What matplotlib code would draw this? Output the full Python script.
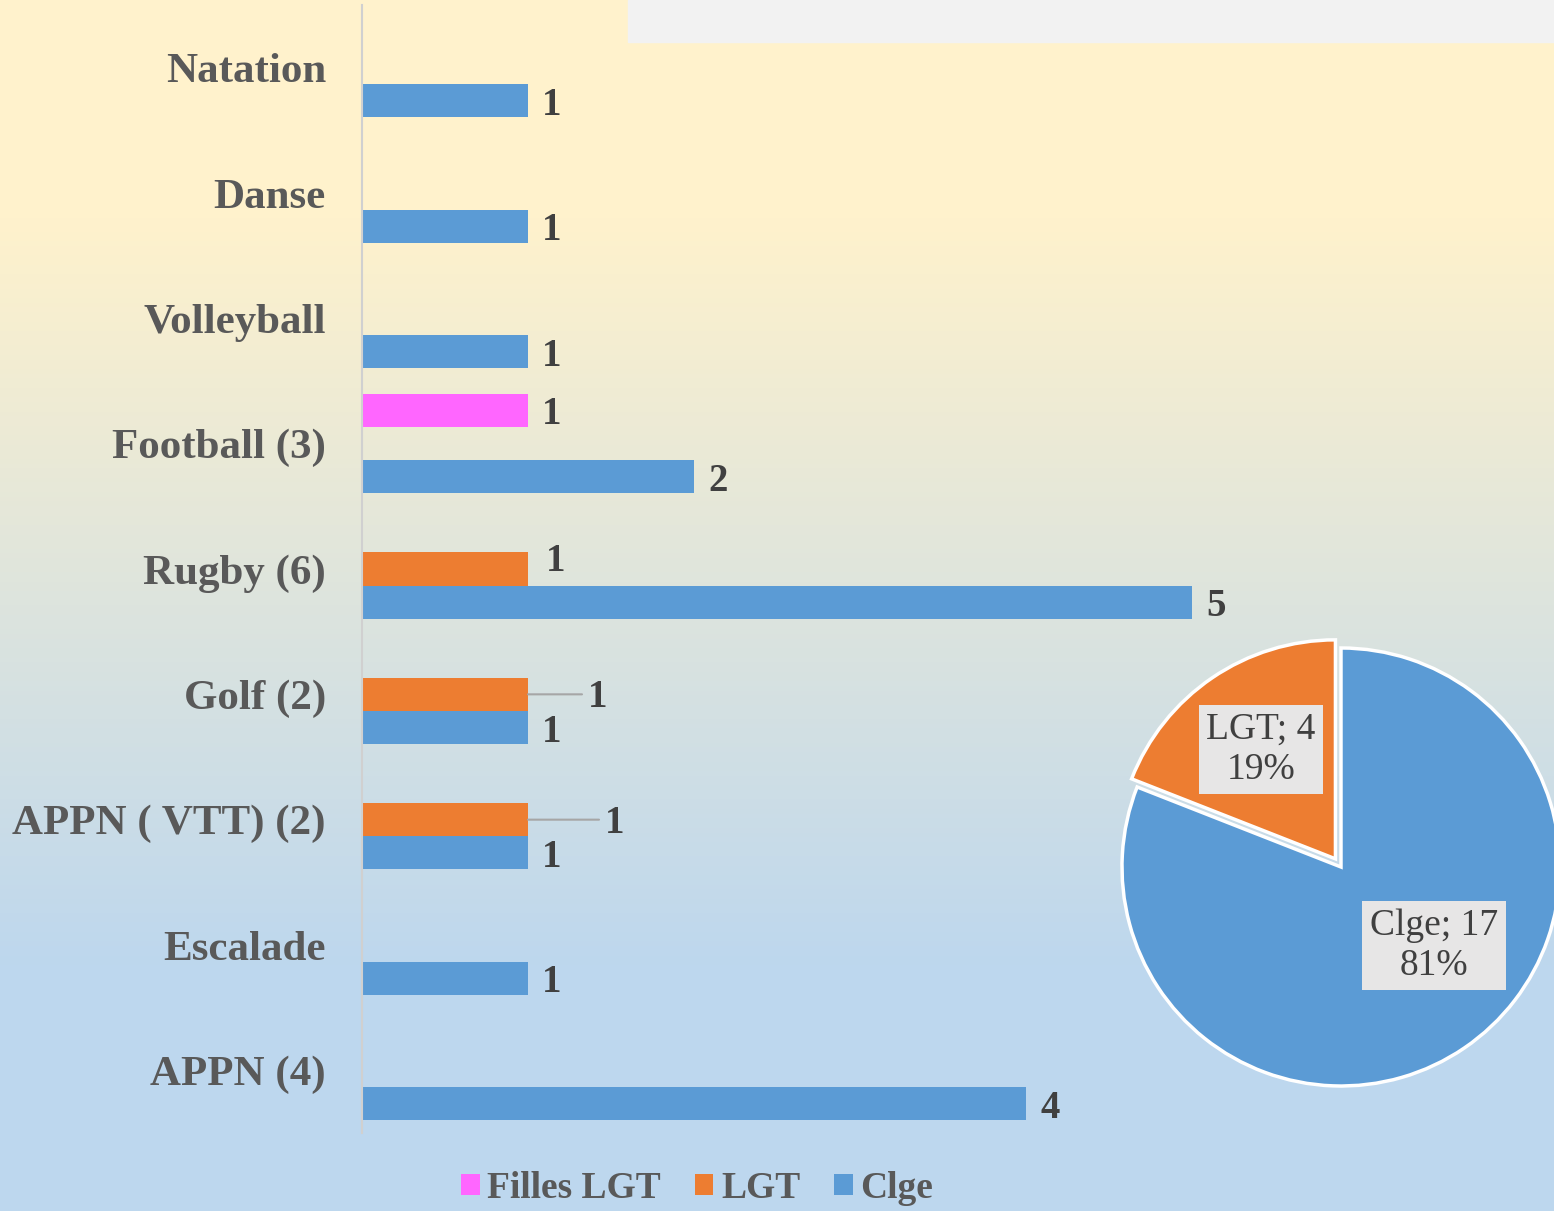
#plot.py
#sports par niveau : barres horizontales + camembert
import matplotlib.pyplot as plt
import numpy as np
from matplotlib.patches import Rectangle

#données
categories = ["Natation", "Danse", "Volleyball", "Football (3)", "Rugby (6)",
              "Golf (2)", "APPN ( VTT) (2)", "Escalade", "APPN (4)"]
filles_lgt = [0, 0, 0, 1, 0, 0, 0, 0, 0]
lgt = [0, 0, 0, 0, 1, 1, 1, 0, 0]
clge = [1, 1, 1, 2, 5, 1, 1, 1, 4]

pie_labels = ["Clge", "LGT"]
pie_values = [17, 4]

#couleurs
c_filles = "#ff66ff"
c_lgt = "#ed7d31"
c_clge = "#5b9bd5"
txt_dark = "#404040"
txt_gray = "#595959"
serif = "Liberation Serif"

W, H = 1554, 1211
fig = plt.figure(figsize=(W / 100, H / 100), dpi=100)

#fond en dégradé jaune -> bleu
bg = fig.add_axes([0, 0, 1, 1], zorder=-2)
pos = np.linspace(0, 1, 256)
top = np.array([255, 242, 204]) / 255
bot = np.array([189, 215, 238]) / 255
t = np.clip((pos - 0.18) / (0.62), 0, 1)
grad = top[None, :] * (1 - t[:, None]) + bot[None, :] * t[:, None]
bg.imshow(grad[:, None, :], aspect="auto", extent=[0, 1, 0, 1])
bg.set_axis_off()
fig.patches.append(Rectangle((628 / W, 1 - 42 / H), 1 - 628 / W, 42 / H,
                             transform=fig.transFigure, color="#f2f2f2", zorder=-1))

#barres
ax = fig.add_axes([362 / W, 1 - 1133 / H, 7 * 166 / W, (1133 - 5) / H])
ax.patch.set_alpha(0)
y = np.arange(len(categories))
h = 0.265
series = [(filles_lgt, -h, c_filles, "Filles LGT"),
          (lgt, 0, c_lgt, "LGT"),
          (clge, h, c_clge, "Clge")]
handles = []
for vals, off, col, lab in series:
    b = ax.barh(y + off, vals, height=h, color=col, linewidth=0, label=lab)
    handles.append(b)

#étiquettes de données
moved = {(1, 5): (70, 0), (1, 6): (87, 0), (1, 4): (28, -11)}  # (serie, cat) -> decalage px
for si, (vals, off, col, lab) in enumerate(series):
    for i, v in enumerate(vals):
        if v == 0:
            continue
        dx, dy = moved.get((si, i), (24, 1))
        ax.annotate(str(v), (v, y[i] + off), xytext=(dx, -dy - 13), textcoords="offset pixels",
                    ha="center", va="baseline", fontsize=28, fontweight="bold",
                    color=txt_dark, family=serif)
        if (si, i) in moved and dx > 50:
            ax.annotate("", (v, y[i] + off), xytext=(dx - 16, 0), textcoords="offset pixels",
                        arrowprops=dict(arrowstyle="-", color="#a6a6a6", lw=1.5,
                                        shrinkA=0, shrinkB=0))

ax.set_xlim(0, 7)
ax.set_ylim(len(categories) - 0.5, -0.5)
ax.set_yticks(y)
ax.set_yticklabels(categories, fontsize=31, fontweight="bold", color=txt_gray, family=serif)
ax.tick_params(axis="y", length=0, pad=26)
ax.set_xticks([])
for s in ["top", "right", "bottom"]:
    ax.spines[s].set_visible(False)
ax.spines["left"].set_color("#d0d0d0")
ax.spines["left"].set_linewidth(1.5)

#légende
leg = fig.legend(handles=handles, loc="center", bbox_to_anchor=(697 / W, 1 - 1188 / H),
                 ncol=3, frameon=False, handlelength=0.5, handleheight=0.5,
                 handletextpad=0.2, columnspacing=0.9,
                 prop={"family": serif, "weight": "bold", "size": 27})
for tx in leg.get_texts():
    tx.set_color(txt_gray)

#camembert
cx, cy, r, half = 1341, 867, 219, 250
pax = fig.add_axes([(cx - half) / W, (H - cy - half) / H, 2 * half / W, 2 * half / H])
wedges, _ = pax.pie(pie_values, startangle=90, counterclock=False, explode=[0, 0.045],
                    colors=[c_clge, c_lgt],
                    wedgeprops=dict(edgecolor="white", linewidth=2.5))
R = half / r
pax.set_xlim(-R, R)
pax.set_ylim(-R, R)
pax.set_axis_off()
total = sum(pie_values)
label_pos = [(0.425, -0.358), (-0.365, 0.537)]
for lab, v, (px, py) in zip(pie_labels, pie_values, label_pos):
    pct = round(100 * v / total)
    pax.text(px, py, f"{lab}; {v}\n{pct}%", ha="center", va="center",
             fontsize=27, color=txt_dark, family=serif, linespacing=1.2,
             bbox=dict(boxstyle="square,pad=0.2", facecolor="#e7e6e6", edgecolor="none"))

fig.savefig("out.png", dpi=100)
